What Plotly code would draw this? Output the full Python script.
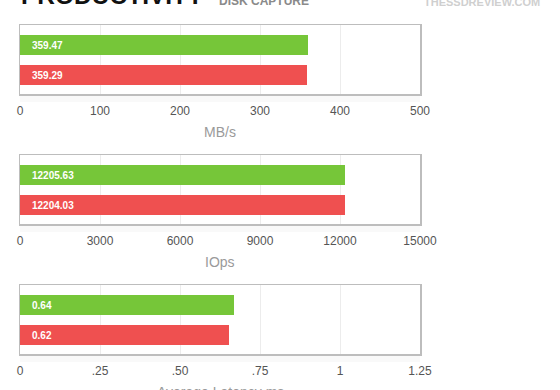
import plotly.graph_objects as go

series = ["A", "B"]
colors = ["#76c639", "#ef5050"]
positions = [1, 0]

mbs_values = [359.47, 359.29]
mbs_labels = ["359.47", "359.29"]
mbs_ticks = [0, 100, 200, 300, 400, 500]
mbs_ticktext = ["0", "100", "200", "300", "400", "500"]

iops_values = [12205.63, 12204.03]
iops_labels = ["12205.63", "12204.03"]
iops_ticks = [0, 3000, 6000, 9000, 12000, 15000]
iops_ticktext = ["0", "3000", "6000", "9000", "12000", "15000"]

lat_values = [0.669, 0.653]
lat_labels = ["0.64", "0.62"]
lat_ticks = [0, 0.25, 0.5, 0.75, 1, 1.25]
lat_ticktext = ["0", ".25", ".50", ".75", "1", "1.25"]

panels = [
    (mbs_values, mbs_labels, mbs_ticks, mbs_ticktext, "MB/s", [25, 94]),
    (iops_values, iops_labels, iops_ticks, iops_ticktext, "IOps", [155.3, 224]),
    (lat_values, lat_labels, lat_ticks, lat_ticktext, "Average Latency ms", [285.3, 354]),
]

W, H = 560, 390
FONT = "Liberation Sans, Arial, sans-serif"
fig = go.Figure()
layout = dict(
    template="none",
    width=W, height=H, margin=dict(l=0, r=0, t=0, b=0, autoexpand=False),
    paper_bgcolor="white", plot_bgcolor="white", showlegend=False,
    font=dict(family=FONT, color="#555555"),
)
annotations = []
shapes = []
for i, (vals, labs, ticks, ticktext, title, (top, bot)) in enumerate(panels):
    n = "" if i == 0 else str(i + 1)
    xa = "x" + n
    ya = "y" + n
    for s, v, c, p, lab in zip(series, vals, colors, positions, labs):
        fig.add_trace(go.Bar(
            x=[v], y=[p], orientation="h", width=0.667,
            marker=dict(color=c, line=dict(width=0)),
            xaxis=xa, yaxis=ya, name=s, hoverinfo="skip",
        ))
        annotations.append(dict(
            x=0, y=p, xref=xa, yref=ya, text="<b>" + lab + "</b>",
            showarrow=False, xanchor="left", xshift=10,
            font=dict(color="white", size=10, family=FONT),
        ))
    layout["xaxis" + n] = dict(
        domain=[20 / W, 420 / W], anchor=ya, range=[0, ticks[-1]],
        tickvals=ticks, ticktext=ticktext, automargin=False,
        showgrid=True, gridcolor="#ececec", gridwidth=1,
        showline=True, linecolor="#bdbdbd", linewidth=1.5, mirror=True,
        ticks="outside", ticklen=5, tickcolor="rgba(0,0,0,0)",
        tickfont=dict(size=12, color="#555555", family=FONT),
        zeroline=False, fixedrange=True,
    )
    layout["yaxis" + n] = dict(
        domain=[1 - bot / H, 1 - top / H], anchor=xa, range=[-0.633, 1.667],
        showticklabels=False, showgrid=False, zeroline=False, automargin=False,
        showline=True, linecolor="#bdbdbd", linewidth=1.5, mirror=True,
        ticks="", fixedrange=True,
    )
    annotations.append(dict(
        x=220 / W, y=1 - (bot + 28) / H, xref="paper", yref="paper",
        xanchor="center", yanchor="top", text=title, showarrow=False,
        font=dict(size=14, color="#9a9a9a", family=FONT),
    ))
    shapes.append(dict(
        type="rect", xref="paper", yref="paper",
        x0=20 / W, x1=420 / W, y0=1 - (bot + 8) / H, y1=1 - (bot + 1) / H,
        fillcolor="rgba(0,0,0,0.025)", line=dict(width=0), layer="below",
    ))

annotations.append(dict(
    x=19 / W, y=1 - 10.5 / H, xref="paper", yref="paper", xanchor="left", yanchor="bottom",
    text="<b>PRODUCTIVITY</b>", showarrow=False,
    font=dict(size=24.5, color="#111111", family=FONT),
))
annotations.append(dict(
    x=217 / W, y=1 - 10 / H, xref="paper", yref="paper", xanchor="left", yanchor="bottom",
    text="<b>DISK CAPTURE</b>", showarrow=False,
    font=dict(size=12, color="#8a8a8a", family=FONT),
))
annotations.append(dict(
    x=422 / W, y=1 - 10 / H, xref="paper", yref="paper", xanchor="left", yanchor="bottom",
    text="<b>THESSDREVIEW.COM</b>", showarrow=False,
    font=dict(size=11, color="#cfcfcf", family=FONT),
))

layout["annotations"] = annotations
layout["shapes"] = shapes
layout["bargap"] = 0
fig.update_layout(**layout)
fig.write_html(
    "out.html",
    config={"displayModeBar": False, "staticPlot": True},
    post_script="document.body.style.margin='0';document.body.style.overflow='hidden';",
)
